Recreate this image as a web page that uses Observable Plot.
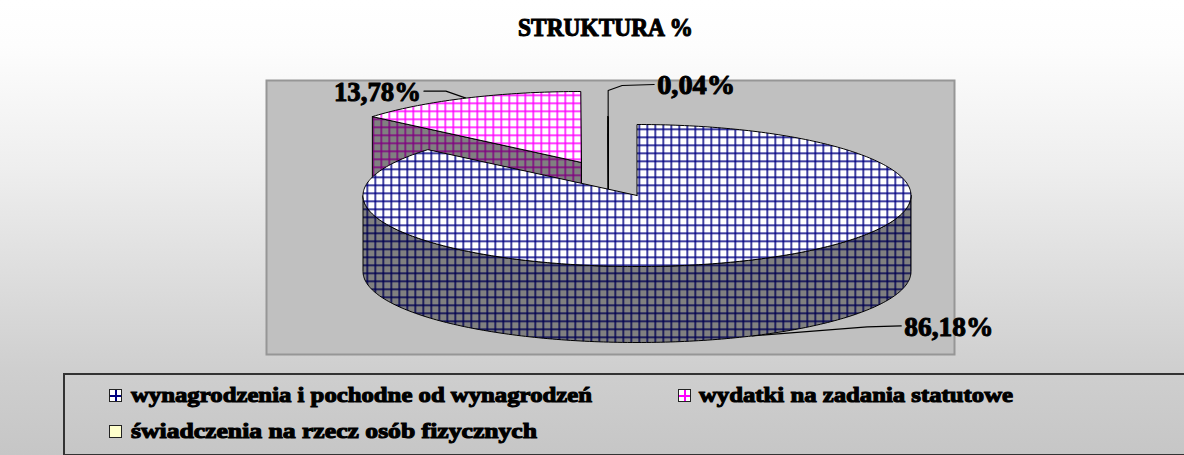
<!DOCTYPE html>
<html lang="pl">
<head>
<meta charset="utf-8">
<script src="https://cdn.jsdelivr.net/npm/d3@7"></script>
<script src="https://cdn.jsdelivr.net/npm/@observablehq/plot@0.6"></script>
<style>
  html, body { margin: 0; padding: 0; }
  body { width: 1184px; height: 455px; overflow: hidden; position: relative;
         background: linear-gradient(#ffffff 0%, #fdfdfd 10%, #eeeeee 37%, #cfcfcf 81%, #c6c6c6 100%);
         font-family: "Liberation Serif", serif; color: #000; }
  .t { position: absolute; white-space: nowrap; font-weight: bold; transform-origin: 0 50%;
       -webkit-text-stroke: 1.1px #000; line-height: 1; }
  #title { height: 60px; }
  #chart { height: 310px; }
  #chart svg { display: block; overflow: visible; }
  #legend { position: absolute; left: 63px; top: 373px; width: 1130px; height: 79px;
            border: 2px solid #333; box-sizing: content-box; }
  .sw { position: absolute; width: 11px; height: 11px; border: 1.5px solid #222; }
</style>
</head>
<body>
<div id="title"></div>
<div id="chart"></div>
<div id="legend"></div>
<script>
// --- data ---
const titleText = "STRUKTURA %";
const categories = ["wynagrodzenia i pochodne od wynagrodzeń", "wydatki na zadania statutowe", "świadczenia na rzecz osób fizycznych"];
const values = [86.18, 13.78, 0.04];

// --- styling and layout ---
const topFills = ["url(#gBlue)", "url(#gPink)", "#ffffcc"];
const sideFills = ["url(#sBlue)", "url(#sPink)", "#808080"];
const rx = 274, ry = 71, depth = 76;
const explode = [[0, 0], [-55.5, -33], [-28.5, -8]];
const leaders = [
  [[0, 0], [115, -9], [149, -10]],
  [[0, 0], [-20, -7], [-42, -7]],
  [[0, 0], [0, -26], [14, -31], [46, -32]]
];
const labelWidths = [89, 87, 78];

// --- pie geometry derived from the values ---
const total = d3.sum(values);
let acc = 0;
const slices = values.map((v, i) => {
  const a0 = acc / total * 360; acc += v; const a1 = acc / total * 360;
  return {i, v, a0, a1, mid: (a0 + a1) / 2, ex: explode[i][0], ey: explode[i][1]};
});
const pt = (s, a, drop = 0) => {
  const r = a * Math.PI / 180;
  return {x: s.ex + rx * Math.sin(r), y: s.ey - ry * Math.cos(r) + drop};
};
const angles = (a0, a1) => [...d3.range(a0, a1, 1), a1];
const close = p => [...p, p[0]];
const apex = (s, drop = 0) => ({x: s.ex, y: s.ey + drop});
const topPoly = s => close([apex(s), ...angles(s.a0, s.a1).map(a => pt(s, a))]);
const facePoly = s => close([pt(s, s.a0), apex(s), apex(s, depth), pt(s, s.a0, depth)]);
const wallPoly = (s, a0, a1) => close([
  ...angles(a0, a1).map(a => pt(s, a)),
  ...angles(a0, a1).reverse().map(a => pt(s, a, depth))
]);
const poly = (d, fill) => Plot.line(d, {x: "x", y: "y", fill, stroke: "#000", strokeWidth: 1});

const labelFmt = v => v.toFixed(2).replace(".", ",") + "%";
const leaderData = slices.map(s => {
  const o = pt(s, s.mid, s.i === 0 ? depth : 0);
  return leaders[s.i].map(([dx, dy]) => ({x: o.x + dx, y: o.y + dy}));
});
const labelData = slices.map(s => {
  const p = leaderData[s.i][leaderData[s.i].length - 1];
  return {x: p.x, y: p.y, text: labelFmt(s.v), end: s.i === 1};
});

const defs = () => {
  const ns = "http://www.w3.org/2000/svg";
  const d = document.createElementNS(ns, "defs");
  const make = (id, bg, line, ox, oy) => {
    const p = document.createElementNS(ns, "pattern");
    p.setAttribute("id", id);
    p.setAttribute("patternUnits", "userSpaceOnUse");
    p.setAttribute("width", 8); p.setAttribute("height", 8);
    p.setAttribute("x", ox); p.setAttribute("y", oy);
    p.innerHTML = `<rect width="8" height="8" fill="${bg}"/><rect width="1.5" height="8" fill="${line}"/><rect width="8" height="1.5" fill="${line}"/>`;
    d.appendChild(p);
  };
  make("gBlue", "#fff", "#000080", 6, 4);
  make("sBlue", "#808080", "#000050", 6, 4);
  make("gPink", "#fff", "#ff00ff", 4, 2);
  make("sPink", "#808080", "#800080", 4, 2);
  return d;
};

const [blue, pink, sliver] = slices;
const labelStyle = {x: "x", y: "y", text: "text", dy: 1, fontFamily: "Liberation Serif", fontWeight: "bold",
  fontSize: 27, fill: "#000", stroke: "#000", strokeWidth: 1};
const chart = Plot.plot({
  width: 1184, height: 310,
  marginLeft: 266, marginRight: 230, marginTop: 20, marginBottom: 16,
  style: {background: "transparent", overflow: "visible"},
  x: {domain: [-370.5, 317.5], axis: null},
  y: {domain: [159, -115], axis: null},
  marks: [
    defs,
    Plot.frame({fill: "#c0c0c0", stroke: "#969696", strokeWidth: 2}),
    ...leaderData.map(d => Plot.line(d, {x: "x", y: "y", stroke: "#000", strokeWidth: 1.1})),
    poly(facePoly(pink), sideFills[1]),
    poly(topPoly(pink), topFills[1]),
    poly(facePoly(sliver), sideFills[2]),
    poly(topPoly(sliver), topFills[2]),
    poly(wallPoly(blue, 90, 270), sideFills[0]),
    poly(topPoly(blue), topFills[0]),
    Plot.text(labelData.filter(d => !d.end), {...labelStyle, textAnchor: "start", dx: 3}),
    Plot.text(labelData.filter(d => d.end), {...labelStyle, textAnchor: "end", dx: -3})
  ]
});
document.getElementById("chart").appendChild(chart);
chart.querySelectorAll("text").forEach(el => {
  const i = labelData.findIndex(d => d.text === el.textContent);
  if (i >= 0) {
    el.setAttribute("textLength", labelWidths[i]);
    el.setAttribute("lengthAdjust", "spacingAndGlyphs");
  }
});

// --- title and legend, above and below the svg ---
const place = (parent, text, left, top, width, size) => {
  const el = document.createElement("span");
  el.className = "t"; el.textContent = text;
  el.style.left = left + "px"; el.style.top = top + "px"; el.style.fontSize = size + "px";
  parent.appendChild(el);
  el.style.transform = `scaleX(${width / el.getBoundingClientRect().width})`;
};
place(document.getElementById("title"), titleText, 518, 15, 175, 25);

const legend = document.getElementById("legend");
const grid = c => `linear-gradient(${c},${c}) center/100% 2px no-repeat, linear-gradient(${c},${c}) center/2px 100% no-repeat, #fff`;
const swatches = [grid("#000080"), grid("#ff00ff"), "#ffffcc"];
const legendAt = [[44, 14, 461, 66], [613, 14, 314, 634], [44, 50, 406, 66]];
categories.forEach((c, i) => {
  const [sx, sy, w, tx] = legendAt[i];
  const sw = document.createElement("div");
  sw.className = "sw"; sw.style.left = sx + "px"; sw.style.top = sy + "px"; sw.style.background = swatches[i];
  legend.appendChild(sw);
  place(legend, c, tx, sy - 5, w, 22);
});
</script>
</body>
</html>
